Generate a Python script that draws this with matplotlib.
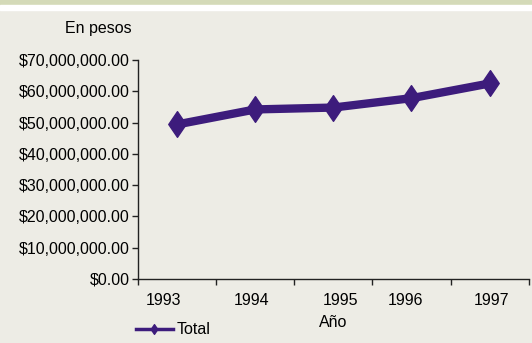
import matplotlib.pyplot as plt
from matplotlib.lines import Line2D
from matplotlib.path import Path
from matplotlib.ticker import FixedLocator, FuncFormatter
import matplotlib.transforms as mtransforms

plt.rcParams['font.family'] = ['Liberation Sans', 'DejaVu Sans']

# Datos
anios = ['1993', '1994', '1995', '1996', '1997']
total = [49.4e6, 54.2e6, 54.8e6, 57.8e6, 62.5e6]
y_ticks = [0, 10e6, 20e6, 30e6, 40e6, 50e6, 60e6, 70e6]

bg = '#edece5'
morado = '#3d1c7c'
fs = 11.5

# diamante alto, como el del original
diamante = Path([(0, 1), (0.68, 0), (0, -1), (-0.68, 0), (0, 1)],
                [Path.MOVETO, Path.LINETO, Path.LINETO, Path.LINETO, Path.CLOSEPOLY])

fig = plt.figure(figsize=(5.32, 3.43), dpi=100, facecolor=bg)
W, H = 532, 343

# franja superior verde y blanca
fig.patches.append(plt.Rectangle((0, 1 - 5 / H), 1, 5 / H, transform=fig.transFigure,
                                 color='#d4dab8', zorder=0))
fig.patches.append(plt.Rectangle((0, 1 - 10 / H), 1, 5 / H, transform=fig.transFigure,
                                 color='white', zorder=0))

ax = fig.add_axes([138 / W, 64 / H, (528.7 - 138) / W, (279 - 60) / H])
ax.set_facecolor(bg)

x = list(range(1, len(anios) + 1))
ax.plot(x, total, color=morado, lw=6, marker=diamante, ms=18.5,
        solid_joinstyle='miter', zorder=3)

ax.set_xlim(0.5, len(anios) + 0.5)
ax.set_ylim(0, 70e6)
ax.yaxis.set_major_locator(FixedLocator(y_ticks))
ax.yaxis.set_major_formatter(FuncFormatter(lambda v, p: f'${v:,.2f}'))

# marcas del eje x entre categorías, etiquetas en el centro
ax.xaxis.set_major_locator(FixedLocator([i + 0.5 for i in range(len(anios) + 1)]))
ax.xaxis.set_major_formatter(FuncFormatter(lambda v, p: ''))
ax.xaxis.set_minor_locator(FixedLocator(x))
ax.set_xticklabels(anios, minor=True)
ax.tick_params(axis='x', which='minor', length=0, pad=10, labelsize=fs)
ax.tick_params(axis='x', which='major', length=4, width=1, color='#222222')
ax.tick_params(axis='y', length=4, width=1, color='#222222', labelsize=fs, pad=2)

# pequeño desplazamiento de las etiquetas como en el original
desplaz = [-14, -4, 7, -6, 2]
for lab, dx in zip(ax.xaxis.get_minorticklabels(), desplaz):
    lab.set_transform(lab.get_transform() +
                      mtransforms.ScaledTranslation(dx / 100, 0, fig.dpi_scale_trans))

for s in ['top', 'right']:
    ax.spines[s].set_visible(False)
for s in ['left', 'bottom']:
    ax.spines[s].set_color('#222222')
    ax.spines[s].set_linewidth(1)

ax.set_xlabel('Año', fontsize=fs, labelpad=5)
fig.text(65 / W, 1 - 29 / H, 'En pesos', fontsize=fs, va='center', ha='left')

h = Line2D([], [], color=morado, lw=2.5, marker=diamante, ms=7)
ax.legend([h], ['Total'], loc='center left', bbox_to_anchor=(136 / W, 1 - 330 / H),
          bbox_transform=fig.transFigure, frameon=False, fontsize=fs,
          handlelength=2.3, handletextpad=0.25, borderpad=0, borderaxespad=0)

fig.savefig('out.png', dpi=100, facecolor=bg)
